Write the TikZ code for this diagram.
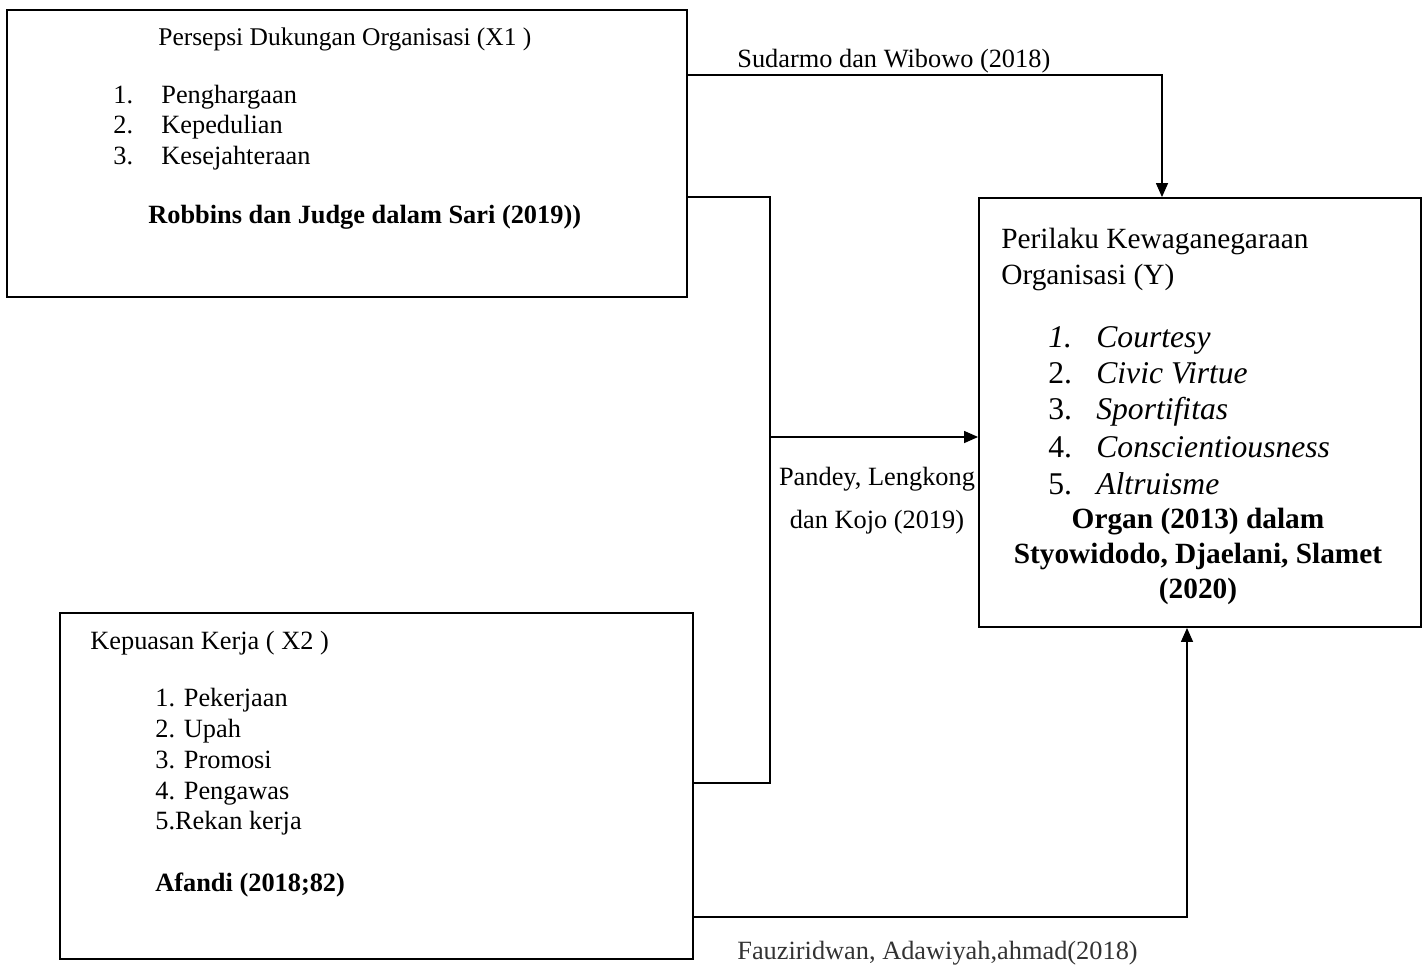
\documentclass[tikz,border=0pt]{standalone}
\usepackage{fontspec}
\setmainfont{Liberation Serif}
\usepackage{xcolor}
\usetikzlibrary{arrows.meta}

\begin{document}
\begin{tikzpicture}[x=0.02cm, y=-0.02cm,
            box/.style={shape=rectangle, draw, line width=1.1pt, inner sep=0pt},
            txt/.style={anchor=base west, inner sep=0pt, font=\fontsize{15}{18}\selectfont},
            big/.style={anchor=base west, inner sep=0pt, font=\fontsize{16.7}{20}\selectfont},
            item/.style={anchor=base west, inner sep=0pt, font=\fontsize{18}{21}\selectfont},
            link/.style={line width=0.8pt},
            arr/.style={line width=0.8pt, -{Triangle[length=0.28cm, width=0.24cm]}}]
        \useasboundingbox (0,0) rectangle (1424,968);

        % boxes
        \node[box, minimum width=13.6cm, minimum height=5.74cm] (x1) at (347,153.5) {};
        \node[box, minimum width=12.66cm, minimum height=6.92cm] (x2) at (376.5,786) {};
        \node[box, minimum width=8.84cm, minimum height=8.58cm] (y) at (1200,412.5) {};

        % X1
        \node[txt, font=\fontsize{14.5}{17}\selectfont] (x1title) at (158,45) {Persepsi Dukungan Organisasi (X1 )};
        \node[txt] (x1n1) at (113,103) {1.};
        \node[txt] (x1a) at (161,103) {Penghargaan};
        \node[txt] (x1n2) at (113,133) {2.};
        \node[txt] (x1b) at (161,133) {Kepedulian};
        \node[txt] (x1n3) at (113,164) {3.};
        \node[txt] (x1c) at (161,164) {Kesejahteraan};
        \node[txt, font=\fontsize{15}{18}\selectfont\bfseries] (x1src) at (148,223) {Robbins dan Judge dalam Sari (2019))};

        % X2
        \node[txt] (x2title) at (90,649) {Kepuasan Kerja ( X2 )};
        \node[txt] (x2a) at (155,706) {1. Pekerjaan};
        \node[txt] (x2b) at (155,737) {2. Upah};
        \node[txt] (x2c) at (155,768) {3. Promosi};
        \node[txt] (x2d) at (155,799) {4. Pengawas};
        \node[txt] (x2e) at (155,829) {5.Rekan kerja};
        \node[txt, font=\fontsize{15}{18}\selectfont\bfseries] (x2src) at (155,891) {Afandi (2018;82)};

        % Y
        \node[big] (ytitle) at (1001,248) {Perilaku Kewaganegaraan};
        \node[big] (ytitleb) at (1001,284) {Organisasi (Y)};
        \node[item] (yn1) at (1048,347) {\itshape 1.};
        \node[item] (ya) at (1096,347) {\itshape Courtesy};
        \node[item] (yn2) at (1048,383) {2.};
        \node[item] (yb) at (1096,383) {\itshape Civic Virtue};
        \node[item] (yn3) at (1048,419) {3.};
        \node[item] (yc) at (1096,419) {\itshape Sportifitas};
        \node[item] (yn4) at (1048,457) {4.};
        \node[item] (yd) at (1096,457) {\itshape Conscientiousness};
        \node[item] (yn5) at (1048,494) {5.};
        \node[item] (ye) at (1096,494) {\itshape Altruisme};
        \node[big, anchor=base, font=\fontsize{16.7}{20}\selectfont\bfseries] (ysrc) at (1198,528) {Organ (2013) dalam};
        \node[big, anchor=base, font=\fontsize{16.7}{20}\selectfont\bfseries] (ysrcb) at (1198,563) {Styowidodo, Djaelani, Slamet};
        \node[big, anchor=base, font=\fontsize{16.7}{20}\selectfont\bfseries] (ysrcc) at (1198,598) {(2020)};

        % connectors
        \coordinate (mid) at (770,437);
        \draw[arr] (x1.east |- 0,75) -| (1162,0 |- y.north);
        \draw[link] (x1.east |- 0,197) -| (mid) |- (x2.east |- 0,783);
        \draw[arr] (mid) -- (y.west |- mid);
        \draw[arr] (x2.east |- 0,917) -| (1187,0 |- y.south);

        % labels
        \node[txt] (lab1) at (737,67) {Sudarmo dan Wibowo (2018)};
        \node[txt, anchor=base] (lab2) at (877,485) {Pandey, Lengkong};
        \node[txt, anchor=base] (lab2b) at (877,528) {dan Kojo (2019)};
        \node[txt, text=black!80] (lab3) at (737,959) {Fauziridwan, Adawiyah,ahmad(2018)};
\end{tikzpicture}
\end{document}
